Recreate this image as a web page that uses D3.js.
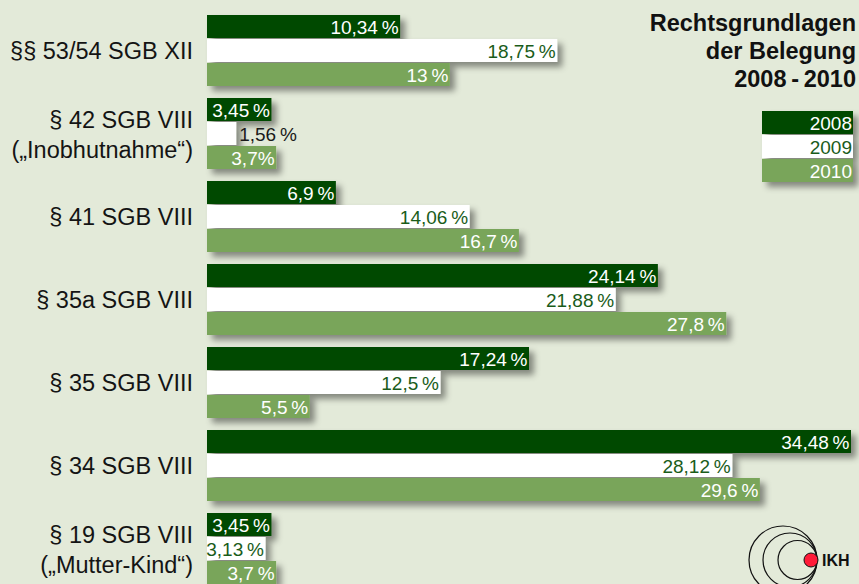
<!DOCTYPE html>
<html>
    <head>
        <meta charset="utf-8">
        <title>Rechtsgrundlagen der Belegung 2008 - 2010</title>
        <style>
            body { margin: 0; background: #e3ead9; }
            svg { display: block; font-family: "Liberation Sans", Arial, sans-serif; }
            .cat text { font-size: 23.5px; fill: #141414; }
            .val { font-size: 19px; }
            .title { font-size: 23.5px; font-weight: bold; fill: #111; }
        </style>
    </head>
    <body>
        <script src="https://cdnjs.cloudflare.com/ajax/libs/d3/7.8.5/d3.min.js" charset="utf-8"></script>
        <script>

        var w = 859;
        var h = 584;

        // categories (two-line labels split on \n)
        var categories = [
            "§§ 53/54 SGB XII",
            "§ 42 SGB VIII\n(„Inobhutnahme“)",
            "§ 41 SGB VIII",
            "§ 35a SGB VIII",
            "§ 35 SGB VIII",
            "§ 34 SGB VIII",
            "§ 19 SGB VIII\n(„Mutter-Kind“)"
        ];
        var years = ["2008", "2009", "2010"];

        var values2008 = [10.34, 3.45, 6.9, 24.14, 17.24, 34.48, 3.45];
        var values2009 = [18.75, 1.56, 14.06, 21.88, 12.5, 28.12, 3.13];
        var values2010 = [13, 3.7, 16.7, 27.8, 5.5, 29.6, 3.7];

        var labels2008 = ["10,34\u2009%", "3,45\u2009%", "6,9\u2009%", "24,14\u2009%", "17,24\u2009%", "34,48\u2009%", "3,45\u2009%"];
        var labels2009 = ["18,75\u2009%", "1,56\u2009%", "14,06\u2009%", "21,88\u2009%", "12,5\u2009%", "28,12\u2009%", "3,13\u2009%"];
        var labels2010 = ["13\u2009%", "3,7%", "16,7\u2009%", "27,8\u2009%", "5,5\u2009%", "29,6\u2009%", "3,7\u2009%"];

        var titleLines = ["Rechtsgrundlagen", "der Belegung", "2008\u2009-\u20092010"];

        var fills = ["#004a00", "#ffffff", "#79a55a"];
        var textFills = ["#ffffff", "#1a5c1a", "#ffffff"];

        var allValues = [values2008, values2009, values2010];
        var allLabels = [labels2008, labels2009, labels2010];

        var svg = d3.select("body")
                    .append("svg")
                    .attr("width", w)
                    .attr("height", h);

        svg.append("rect").attr("width", w).attr("height", h).attr("fill", "#e3ead9");

        var defs = svg.append("defs");
        var f = defs.append("filter").attr("id", "shadow")
            .attr("x", "-10%").attr("y", "-30%").attr("width", "130%").attr("height", "190%");
        f.append("feDropShadow")
            .attr("dx", 5).attr("dy", 5).attr("stdDeviation", 3)
            .attr("flood-color", "#000").attr("flood-opacity", 0.42);

        var xScale = d3.scaleLinear()
                       .domain([0, d3.max(values2008)])
                       .range([207, 851]);

        var yScale = d3.scaleBand()
                       .domain(categories)
                       .range([15, 585])
                       .paddingInner(11 / 83);

        var ySub = d3.scaleBand()
                     .domain(years)
                     .range([0, 71])
                     .paddingInner(1 / 24);

        // flatten into rows for the bars
        var rows = [];
        categories.forEach(function(c, i) {
            years.forEach(function(y, j) {
                rows.push({ cat: c, year: y, j: j, v: allValues[j][i], label: allLabels[j][i] });
            });
        });

        svg.append("g")
            .attr("filter", "url(#shadow)")
            .selectAll("rect")
            .data(rows)
            .enter()
            .append("rect")
            .attr("x", xScale(0))
            .attr("y", function(d) { return yScale(d.cat) + ySub(d.year); })
            .attr("width", function(d) { return xScale(d.v) - xScale(0); })
            .attr("height", ySub.bandwidth())
            .attr("fill", function(d) { return fills[d.j]; });

        var lab = svg.append("g").selectAll("text")
            .data(rows)
            .enter()
            .append("text")
            .attr("class", "val")
            .attr("y", function(d) { return yScale(d.cat) + ySub(d.year) + ySub.bandwidth() - 4; })
            .text(function(d) { return d.label; });

        lab.each(function(d) {
            var t = d3.select(this);
            var tw = this.getComputedTextLength();
            var bw = xScale(d.v) - xScale(0);
            if (tw > bw + 2) {
                // too small: put it after the bar
                t.attr("x", xScale(d.v) + 3).attr("text-anchor", "start").attr("fill", "#1a1a1a");
            } else {
                t.attr("x", xScale(d.v) - 1.5).attr("text-anchor", "end").attr("fill", textFills[d.j]);
            }
        });

        // category labels
        var cat = svg.append("g").attr("class", "cat")
            .selectAll("text")
            .data(categories)
            .enter()
            .append("text")
            .attr("text-anchor", "end")
            .attr("x", 193)
            .attr("y", function(d) {
                var mid = yScale(d) + yScale.bandwidth() / 2;
                return d.indexOf("\n") > -1 ? mid - 6 : mid + 8;
            });

        cat.selectAll("tspan")
            .data(function(d) { return d.split("\n"); })
            .enter()
            .append("tspan")
            .attr("x", 193)
            .attr("dy", function(d, i) { return i === 0 ? 0 : 30; })
            .text(function(d) { return d; });

        // title
        svg.append("g").selectAll("text")
            .data(titleLines)
            .enter()
            .append("text")
            .attr("class", "title")
            .attr("text-anchor", "end")
            .attr("x", 856)
            .attr("y", function(d, i) { return 31 + i * 28; })
            .text(function(d) { return d; });

        // legend
        var legY = d3.scaleBand().domain(years).range([111, 182]).paddingInner(1 / 24);

        svg.append("g")
            .attr("filter", "url(#shadow)")
            .selectAll("rect")
            .data(years)
            .enter()
            .append("rect")
            .attr("x", 762)
            .attr("y", function(d) { return legY(d); })
            .attr("width", 91)
            .attr("height", legY.bandwidth())
            .attr("fill", function(d, i) { return fills[i]; });

        svg.append("g").selectAll("text")
            .data(years)
            .enter()
            .append("text")
            .attr("class", "val")
            .attr("text-anchor", "end")
            .attr("x", 852)
            .attr("y", function(d) { return legY(d) + legY.bandwidth() - 4; })
            .attr("fill", function(d, i) { return textFills[i]; })
            .text(function(d) { return d; });

        // IKH logo
        var logo = svg.append("g");
        [34, 27, 19.5].forEach(function(r) {
            logo.append("circle")
                .attr("cx", 817 - r).attr("cy", 560).attr("r", r)
                .attr("fill", "none").attr("stroke", "#111").attr("stroke-width", 1.2);
        });
        logo.append("circle")
            .attr("cx", 811).attr("cy", 560).attr("r", 7)
            .attr("fill", "#ff1a38").attr("stroke", "#111").attr("stroke-width", 1);
        logo.append("text")
            .attr("x", 822).attr("y", 566)
            .attr("font-size", 16).attr("font-weight", "bold").attr("fill", "#111")
            .text("IKH");

        </script>
    </body>
</html>
